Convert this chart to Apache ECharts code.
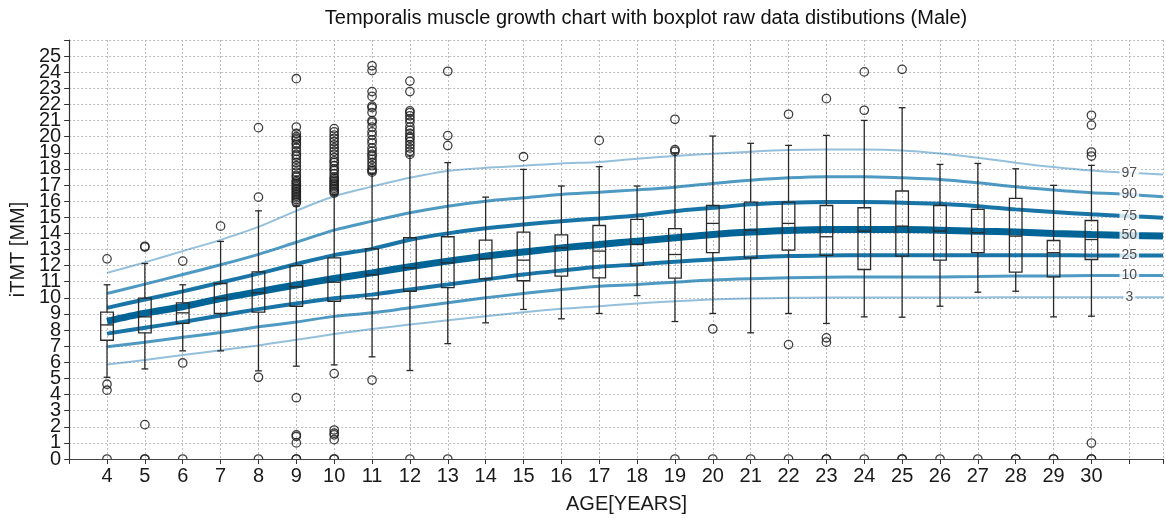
<!DOCTYPE html>
<html><head><meta charset="utf-8">
<script src="https://cdn.jsdelivr.net/npm/echarts@6/dist/echarts.min.js"></script>
<style>html,body{margin:0;padding:0;background:#fff}#c{width:1166px;height:519px}</style>
</head><body><div id="c"></div>
<script>
// ---- data ----
const ages = [4,5,6,7,8,9,10,11,12,13,14,15,16,17,18,19,20,21,22,23,24,25,26,27,28,29,30];
const whiskerLow  = [5.07,5.59,6.71,6.71,5.47,5.76,5.84,6.34,5.49,7.16,8.45,9.28,8.70,9.03,10.14,8.53,9.03,7.83,9.03,8.41,8.82,8.80,9.48,10.35,10.41,8.82,8.86];
const q1          = [7.37,7.83,8.41,9.03,9.11,9.48,9.79,9.94,10.41,10.64,11.18,11.06,11.35,11.24,12.01,11.22,12.80,12.48,12.96,12.63,11.76,12.59,12.34,12.80,11.59,11.30,12.38];
const median      = [8.32,8.82,9.07,9.98,10.31,10.68,10.97,11.43,11.86,12.17,12.42,12.34,13.10,12.90,13.31,12.69,14.62,14.20,14.62,13.79,14.14,14.45,14.14,14.04,13.83,12.80,13.62];
const q3          = [9.11,9.98,9.69,10.89,11.61,12.00,12.48,13.04,13.73,13.79,13.58,14.08,13.91,14.49,14.87,14.29,15.73,15.94,15.94,15.73,15.59,16.63,15.73,15.49,16.17,13.56,14.80];
const whiskerHigh = [10.81,12.13,10.81,13.50,15.40,15.70,16.40,17.70,18.80,18.39,16.25,17.97,16.94,18.14,16.94,19.00,20.04,19.59,19.46,20.08,21.01,21.80,18.28,18.34,18.01,16.98,18.22];
const outliers = [
  [12.42,4.64,4.27,0],
  [13.2,13.15,2.13,0,0],
  [12.28,5.96,0],
  [14.45],
  [20.56,16.25,5.07,0],
  [15.9,16.0,16.1,16.2,16.3,16.4,16.5,16.6,16.7,16.8,16.9,17.0,17.1,17.2,17.3,17.5,17.6,17.8,18.0,18.2,18.4,18.6,18.8,18.9,19.1,19.3,19.5,19.6,19.8,19.9,20.0,20.2,20.6,23.6,3.8,1.5,1.4,1.0,0,0],
  [16.5,16.6,16.7,16.8,16.9,17.0,17.1,17.2,17.3,17.4,17.5,17.7,17.9,18.0,18.2,18.4,18.5,18.7,18.9,19.1,19.3,19.5,19.7,19.9,20.1,20.3,20.5,5.3,1.8,1.6,1.5,1.2,0,0],
  [17.8,17.9,18.0,18.2,18.4,18.6,18.8,18.9,19.1,19.3,19.6,19.8,20.1,20.3,20.6,20.9,21.0,21.5,21.8,21.9,22.5,22.8,24.1,24.4,4.9],
  [18.9,19.1,19.3,19.5,19.7,19.9,20.0,20.2,20.4,20.6,20.9,21.1,21.3,21.5,21.6,22.8,23.45,0],
  [24.06,20.07,19.45,0],
  [],
  [18.76],
  [],
  [19.77],
  [],
  [21.08,19.2,19.1,0],
  [8.07,0],
  [0],
  [21.39,7.1,0],
  [22.36,7.52,7.25,0,0],
  [24.02,21.64,0],
  [24.18,0,0],
  [0],
  [0],
  [0,0],
  [0,0],
  [21.33,20.72,19.05,18.8,0.99,0,0]
];
const curveX = [4,5,6,7,8,9,10,11,12,13,14,15,16,17,18,19,20,21,22,23,24,25,26,27,28,29,30,31,31.89];
const p3  = [5.86,6.15,6.45,6.75,7.05,7.40,7.75,8.07,8.34,8.61,8.86,9.11,9.32,9.48,9.65,9.79,9.90,9.96,10.00,10.02,10.02,10.02,10.02,10.02,10.04,10.04,10.04,10.04,10.03];
const p10 = [6.96,7.25,7.55,7.85,8.20,8.50,8.85,9.07,9.38,9.69,10.00,10.27,10.52,10.72,10.83,10.97,11.10,11.18,11.24,11.28,11.30,11.30,11.30,11.32,11.35,11.36,11.38,11.39,11.39];
const p25 = [7.78,8.15,8.50,8.90,9.30,9.65,9.97,10.20,10.52,10.83,11.14,11.45,11.70,11.93,12.07,12.24,12.38,12.50,12.59,12.63,12.65,12.65,12.65,12.65,12.65,12.65,12.63,12.63,12.63];
const p50 = [8.55,9.05,9.45,9.95,10.38,10.80,11.20,11.55,11.93,12.28,12.59,12.84,13.10,13.31,13.52,13.73,13.93,14.08,14.18,14.24,14.24,14.24,14.20,14.14,14.08,14.00,13.93,13.87,13.83];
const p75 = [9.38,9.90,10.40,10.95,11.50,12.10,12.65,13.04,13.60,14.00,14.32,14.55,14.76,14.93,15.11,15.38,15.59,15.80,15.90,15.94,15.94,15.90,15.84,15.69,15.49,15.32,15.18,15.07,14.97];
const p90 = [10.27,10.85,11.45,12.05,12.70,13.45,14.20,14.76,15.28,15.69,16.00,16.21,16.42,16.55,16.70,16.87,17.10,17.30,17.45,17.52,17.52,17.45,17.35,17.14,16.89,16.69,16.52,16.42,16.27];
const p97 = [11.55,12.20,12.90,13.60,14.40,15.40,16.30,16.90,17.45,17.87,18.07,18.20,18.34,18.43,18.63,18.80,18.94,19.07,19.17,19.21,19.21,19.15,18.96,18.70,18.39,18.12,17.90,17.76,17.66];
const percentileNames = ['3','10','25','50','75','90','97'];
const percentileValues = [p3,p10,p25,p50,p75,p90,p97];
const labelAge = 31;

// ---- styles ----
const curveWidth = {'3':2,'10':3,'25':4,'50':7,'75':4,'90':3,'97':2};
const curveColor = {'3':'rgba(60,140,190,0.55)','10':'rgba(20,120,175,0.75)','25':'rgba(5,105,160,0.92)','50':'rgb(0,100,150)','75':'rgba(5,105,160,0.92)','90':'rgba(20,120,175,0.75)','97':'rgba(60,140,190,0.55)'};
const ink = '#2a2a2a';
const FONT = 'Liberation Sans';

const chart = echarts.init(document.getElementById('c'));

const lineSeries = percentileNames.map((nm, i) => ({
  type: 'line',
  name: 'P' + nm,
  data: curveX.map((x, j) => [x, percentileValues[i][j]]),
  smooth: 0.3,
  symbol: 'none',
  silent: true,
  z: 2,
  lineStyle: { width: curveWidth[nm], color: curveColor[nm] }
}));

const labelIdx = curveX.indexOf(labelAge);
const labelSeries = {
  type: 'scatter',
  silent: true,
  z: 3,
  symbol: 'rect',
  symbolSize: 1,
  itemStyle: { color: 'rgba(0,0,0,0)' },
  data: percentileNames.map((nm, i) => ({ name: nm, value: [labelAge, percentileValues[i][labelIdx]] })),
  label: {
    show: true, position: 'inside', formatter: p => p.name,
    fontFamily: FONT, fontSize: 14, color: '#222',
    backgroundColor: '#fff', padding: [0, 2, 0, 2]
  }
};

const boxData = ages.map((a, i) => [a, whiskerLow[i], q1[i], median[i], q3[i], whiskerHigh[i]]);
const boxSeries = {
  type: 'custom',
  silent: true,
  z: 5,
  clip: true,
  encode: { x: 0, y: [1, 2, 3, 4, 5] },
  data: boxData,
  renderItem: (params, api) => {
    const x = api.value(0);
    const pl = api.coord([x, api.value(1)]);
    const pq1 = api.coord([x, api.value(2)]);
    const pm = api.coord([x, api.value(3)]);
    const pq3 = api.coord([x, api.value(4)]);
    const ph = api.coord([x, api.value(5)]);
    const cx = pl[0], hw = 6.3, cw = 3.4;
    const st = () => ({ stroke: ink, lineWidth: 1.3, fill: 'none' });
    return {
      type: 'group',
      children: [
        { type: 'line', shape: { x1: cx, y1: pq3[1], x2: cx, y2: ph[1] }, style: st() },
        { type: 'line', shape: { x1: cx, y1: pq1[1], x2: cx, y2: pl[1] }, style: st() },
        { type: 'line', shape: { x1: cx - cw, y1: ph[1], x2: cx + cw, y2: ph[1] }, style: st() },
        { type: 'line', shape: { x1: cx - cw, y1: pl[1], x2: cx + cw, y2: pl[1] }, style: st() },
        { type: 'rect', shape: { x: cx - hw, y: pq3[1], width: 2 * hw, height: pq1[1] - pq3[1] }, style: st() },
        { type: 'line', shape: { x1: cx - hw, y1: pm[1], x2: cx + hw, y2: pm[1] }, style: st() }
      ]
    };
  }
};

const outlierData = [];
ages.forEach((a, i) => outliers[i].forEach(v => outlierData.push([a, v])));
const outlierSeries = {
  type: 'custom',
  silent: true,
  z: 6,
  clip: true,
  encode: { x: 0, y: 1 },
  data: outlierData,
  renderItem: (params, api) => {
    const p = api.coord([api.value(0), api.value(1)]);
    const cs = params.coordSys;
    return {
      type: 'group',
      clipPath: { type: 'rect', shape: { x: cs.x, y: cs.y, width: cs.width, height: cs.height } },
      children: [{ type: 'circle', shape: { cx: p[0], cy: p[1], r: 4.2 }, style: { fill: 'none', stroke: 'rgba(30,30,30,0.85)', lineWidth: 1.3 } }]
    };
  }
};

const yLabelStyle = { fontFamily: FONT, fontSize: 20, lineHeight: 14, color: '#1a1a1a', margin: 8 };

chart.setOption({
  animation: false,
  backgroundColor: '#fff',
  grid: { left: 67, right: 0, top: 40, bottom: 59, containLabel: false },
  graphic: [{
    type: 'text', x: 646, y: 18.5,
    style: { text: 'Temporalis muscle growth chart with boxplot raw data distibutions (Male)', font: '20px "Liberation Sans"', fill: '#111', align: 'center', verticalAlign: 'middle' }
  }],
  xAxis: [{
    type: 'value', min: 3, max: 31.89, interval: 1,
    name: 'AGE[YEARS]', nameLocation: 'middle', nameGap: 35,
    nameTextStyle: { fontFamily: FONT, fontSize: 20, color: '#1a1a1a', padding: [0, 0, 0, 21] },
    axisLine: { show: true, onZero: false, lineStyle: { color: '#333', width: 1.2 } },
    axisTick: { show: true, length: 5, lineStyle: { color: '#333' } },
    axisLabel: {
      fontFamily: FONT, fontSize: 20, color: '#1a1a1a', margin: 7,
      formatter: v => (Number.isInteger(v) && v >= 4 && v <= 30) ? String(v) : ''
    },
    splitLine: { show: true, lineStyle: { color: '#bdbdbd', type: [2, 2], width: 1 } }
  }, {
    type: 'value', position: 'top', min: 3, max: 31.89,
    axisLine: { show: true, lineStyle: { color: '#444', width: 1.2 } },
    axisTick: { show: false }, axisLabel: { show: false }, splitLine: { show: false }
  }],
  yAxis: [{
    type: 'value', min: 0, max: 26, interval: 1,
    name: 'iTMT [MM]', nameLocation: 'middle', nameGap: 38,
    nameTextStyle: { fontFamily: FONT, fontSize: 20, color: '#1a1a1a' },
    axisLine: { show: true, lineStyle: { color: '#333', width: 1.2 } },
    axisTick: { show: true, length: 5, lineStyle: { color: '#333' } },
    axisLabel: Object.assign({}, yLabelStyle, {
      formatter: v => (v >= 1 && v <= 25) ? String(v) : ''
    }),
    splitLine: { show: true, lineStyle: { color: '#bdbdbd', type: [2, 2], width: 1 } }
  }, {
    type: 'value', min: 0, max: 26, interval: 1, position: 'left', offset: 0,
    axisLine: { show: false }, axisTick: { show: false }, splitLine: { show: false },
    axisLabel: Object.assign({}, yLabelStyle, {
      showMinLabel: true,
      formatter: v => (v === 0) ? '0' : ''
    })
  }],
  series: [...lineSeries, labelSeries, boxSeries, outlierSeries]
});
</script>
</body></html>
